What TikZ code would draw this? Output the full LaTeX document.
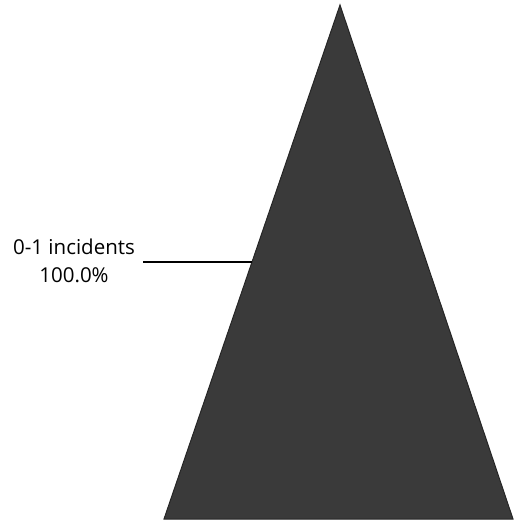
\documentclass[tikz,border=0pt]{standalone}
\usepackage{fontspec}
\setmainfont{Open Sans}
\definecolor{pyr}{HTML}{3A3A3A}
\tikzset{lbl/.style={font=\fontsize{20.5}{28}\selectfont, align=center, inner sep=0pt}}
\begin{document}
\begin{tikzpicture}[x=1pt,y=-1pt]
\useasboundingbox (0,0) rectangle (518,525);
\coordinate (apex) at (340,5);
\coordinate (bl) at (164,519);
\coordinate (br) at (513,519);
\fill[pyr, draw=black!85, line width=1pt] (apex) -- (br) -- (bl) -- cycle;
\coordinate (edge) at (252,262);
\coordinate (lstart) at (143,262);
\draw[black, line width=1.2pt] (lstart) -- (edge);
\node[lbl, anchor=center] (lab) at (74,261) {0-1 incidents\\100.0\%};
\end{tikzpicture}
\end{document}
